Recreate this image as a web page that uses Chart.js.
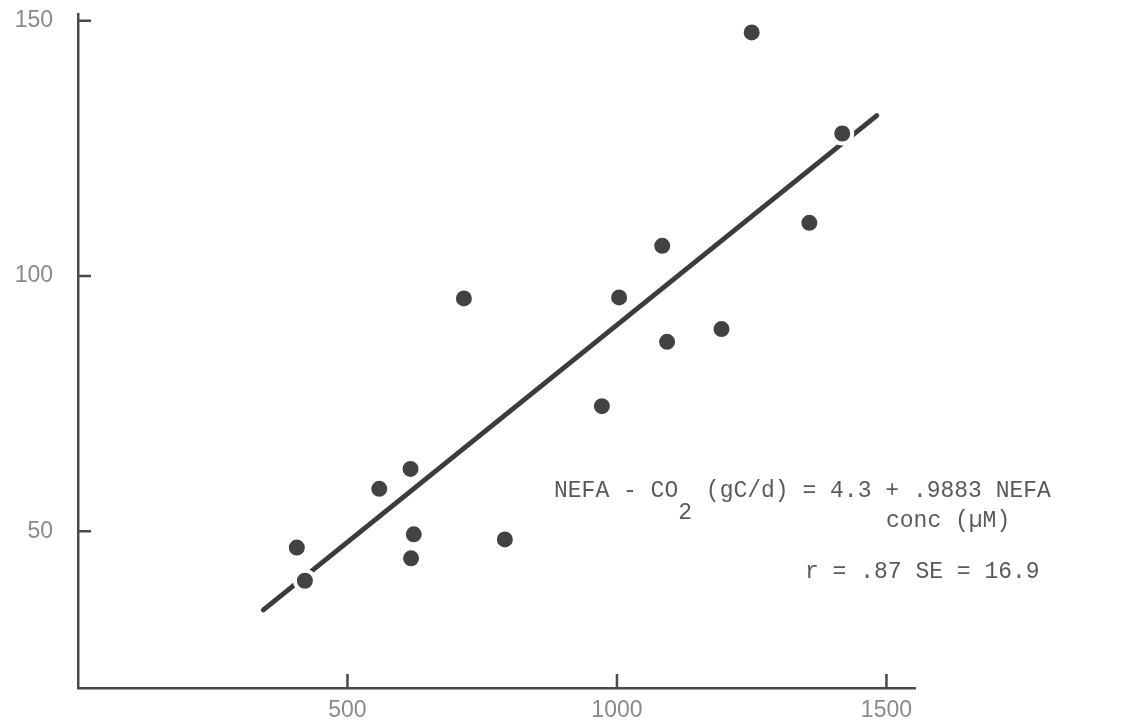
<!DOCTYPE html>
<html>
<head>
<meta charset="utf-8">
<script src="https://cdn.jsdelivr.net/npm/chart.js"></script>
<style>
  body { margin: 0; background: #fff; }
  #wrap { position: relative; width: 1146px; height: 721px; }
  .note {
    position: absolute;
    font-family: "Liberation Mono", "DejaVu Sans Mono", monospace;
    font-size: 23px;
    line-height: 1;
    color: #5a5a5a;
    white-space: pre;
  }
  .note .sub { position: relative; top: 22px; }
</style>
</head>
<body>
<div id="wrap">
  <canvas id="nefaChart"></canvas>
  <div class="note" style="left:554px;top:480px">NEFA - CO<span class="sub">2</span> (gC/d) = 4.3 + .9883 NEFA</div>
  <div class="note" style="left:886px;top:510px">conc (µM)</div>
  <div class="note" style="left:805px;top:561px">r = .87 SE = 16.9</div>
</div>
<script>
// NEFA concentration (uM) vs NEFA-CO2 output (gC/d)
const nefaConc = [406, 421, 559, 617, 623, 618, 792, 716, 972, 1004, 1084, 1093, 1194, 1357, 1250, 1418];
const nefaCO2  = [46.8, 40.3, 58.3, 62.2, 49.4, 44.7, 48.4, 95.6, 74.5, 95.8, 105.9, 87.1, 89.6, 110.4, 147.7, 127.9];

// ends of the fitted line
const fitConc = [344, 1482];
const fitCO2  = [34.6, 131.4];

const xTicks = [500, 1000, 1500];
const yTicks = [50, 100, 150];

const ink = '#4a4a4a';

const points = nefaConc.map((x, i) => ({ x: x, y: nefaCO2[i] }));
const fit = fitConc.map((x, i) => ({ x: x, y: fitCO2[i] }));

// short tick marks pointing into the plot
const innerTicks = {
  id: 'innerTicks',
  afterDraw(chart) {
    const ctx = chart.ctx;
    const xs = chart.scales.x, ys = chart.scales.y;
    ctx.save();
    ctx.strokeStyle = ink;
    ctx.lineWidth = 2.5;
    ctx.beginPath();
    xTicks.forEach(v => {
      const px = xs.getPixelForValue(v);
      ctx.moveTo(px, ys.bottom);
      ctx.lineTo(px, ys.bottom - 14);
    });
    yTicks.forEach(v => {
      const py = ys.getPixelForValue(v);
      ctx.moveTo(xs.left, py);
      ctx.lineTo(xs.left + 13, py);
    });
    ctx.stroke();
    ctx.restore();
  }
};

const tickFont = { family: '"Liberation Sans", "DejaVu Sans", sans-serif', size: 23 };

new Chart(document.getElementById('nefaChart'), {
  type: 'scatter',
  data: {
    datasets: [
      {
        data: points,
        backgroundColor: '#424242',
        borderColor: '#ffffff',
        borderWidth: 4,
        pointRadius: 10,
        pointHoverRadius: 10,
        order: 1
      },
      {
        type: 'line',
        data: fit,
        showLine: true,
        borderColor: '#3c3c3c',
        borderWidth: 5,
        borderCapStyle: 'round',
        pointRadius: 0,
        order: 2
      }
    ]
  },
  options: {
    responsive: true,
    maintainAspectRatio: false,
    animation: false,
    layout: { padding: { top: 14, right: 231, left: 0, bottom: 0 } },
    plugins: { legend: { display: false }, tooltip: { enabled: false } },
    scales: {
      x: {
        type: 'linear',
        min: 0,
        max: 1553,
        afterBuildTicks: s => { s.ticks = xTicks.map(v => ({ value: v })); },
        afterFit: s => { s.height = 33; s.paddingLeft = 0; s.paddingRight = 0; },
        grid: { display: true, drawOnChartArea: false, drawTicks: false },
        border: { display: true, color: ink, width: 2.5 },
        ticks: { color: '#8a8a8a', font: tickFont, padding: 9, maxRotation: 0, callback: v => String(v) }
      },
      y: {
        type: 'linear',
        min: 19.3,
        max: 151.3,
        afterBuildTicks: s => { s.ticks = yTicks.map(v => ({ value: v })); },
        afterFit: s => { s.width = 78; s.paddingTop = 0; s.paddingBottom = 0; },
        grid: { display: true, drawOnChartArea: false, drawTicks: false },
        border: { display: true, color: ink, width: 2.5 },
        ticks: { color: '#8a8a8a', font: tickFont, padding: 25, callback: v => String(v) }
      }
    }
  },
  plugins: [innerTicks]
});
</script>
</body>
</html>
